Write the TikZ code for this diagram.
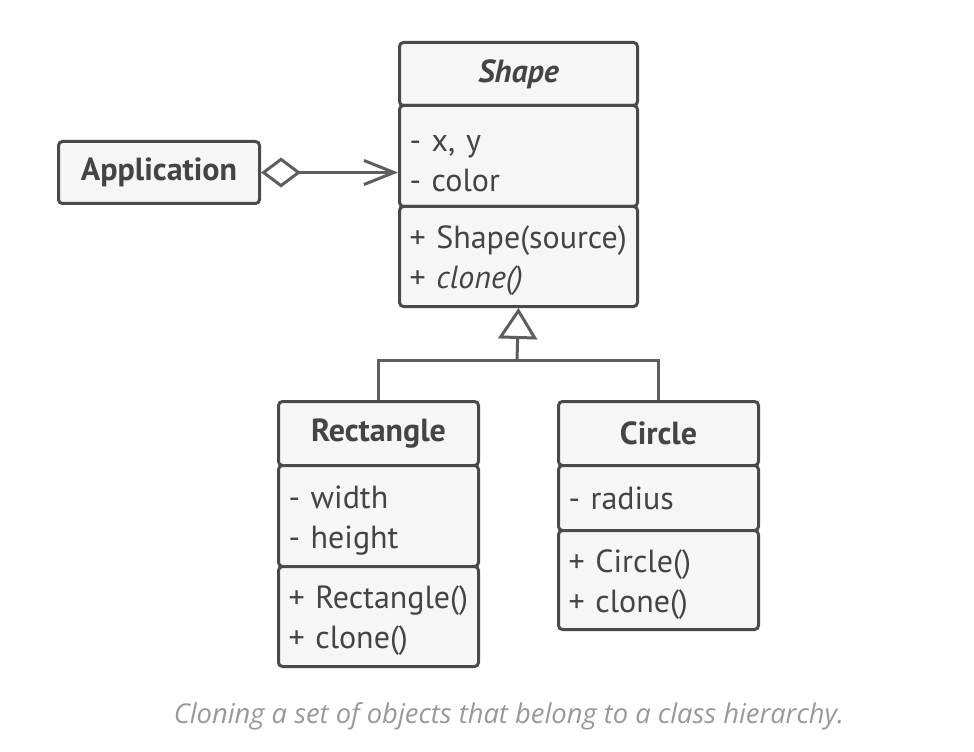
\documentclass[tikz,border=0pt]{standalone}
\usepackage{fontspec}
\setmainfont{PT Sans}
\newfontfamily\capfont{Open Sans}
\usetikzlibrary{arrows.meta}

\newcommand\upx{0.75pt}
\definecolor{umlline}{HTML}{4A4A4A}
\definecolor{umlconn}{HTML}{5E5E5E}
\definecolor{umlfill}{HTML}{F6F6F6}
\definecolor{umltext}{HTML}{444444}
\definecolor{captext}{HTML}{999999}

\tikzset{
  compart/.style={draw=umlline, fill=umlfill, line width=3*\upx, rounded corners=4*\upx,
    anchor=north west, inner ysep=0pt, inner xsep=10*\upx, text=umltext},
  headbox/.style={compart, font=\fontsize{24}{28}\selectfont\bfseries, align=center},
  listbox/.style={compart, font=\fontsize{24}{30}\selectfont, align=left},
  twoline/.style={listbox, execute at begin node={\rule{0pt}{24pt}}},
  conn/.style={draw=umlconn, line width=3*\upx},
}

\begin{document}
\begin{tikzpicture}[x=0.75pt,y=-0.75pt]
\fill[white] (0,0) rectangle (974,752);
\useasboundingbox (0,0) rectangle (974,752);

% Shape
\node[headbox, minimum width=238*\upx, minimum height=63*\upx] (shapeHead) at (398,41) {\itshape Shape};
\node[twoline, minimum width=238*\upx, minimum height=101*\upx, text width=218*\upx] (shapeAttr) at (398,104) {- x, y\\- color};
\node[twoline, minimum width=238*\upx, minimum height=100*\upx, text width=218*\upx] (shapeMeth) at (398,205) {+ Shape(source)\\+ \textit{clone()}};

% Application
\node[headbox, minimum width=201*\upx, minimum height=62*\upx] (app) at (57,140) {Application};

% Rectangle
\node[headbox, minimum width=200*\upx, minimum height=64*\upx] (rectHead) at (277,400) {Rectangle};
\node[twoline, minimum width=200*\upx, minimum height=101*\upx, text width=180*\upx] (rectAttr) at (277,464) {- width\\- height};
\node[twoline, minimum width=200*\upx, minimum height=100*\upx, text width=180*\upx] (rectMeth) at (277,565) {+ Rectangle()\\+ clone()};

% Circle
\node[headbox, minimum width=200*\upx, minimum height=64*\upx] (circHead) at (557,400) {Circle};
\node[listbox, minimum width=200*\upx, minimum height=65*\upx, text width=180*\upx] (circAttr) at (557,464) {- radius};
\node[twoline, minimum width=200*\upx, minimum height=99*\upx, text width=180*\upx] (circMeth) at (557,529) {+ Circle()\\+ clone()};

% aggregation
\draw[conn, {Diamond[open, length=40*\upx, width=30*\upx]}-{Straight Barb[length=30*\upx, width=24*\upx]}]
  (app.east) -- (app.east -| shapeAttr.west);

% inheritance
\coordinate (join) at (517,360);
\draw[conn] (rectHead.north) |- (join) -| (circHead.north);
\draw[conn, -{Triangle[open, length=31*\upx, width=39*\upx]}] (join) -- (shapeMeth.south);

% caption
\node[text=captext, font=\capfont\itshape\fontsize{20.5}{24}\selectfont] (caption) at (509,716) {Cloning a set of objects that belong to a class hierarchy.};
\end{tikzpicture}
\end{document}
